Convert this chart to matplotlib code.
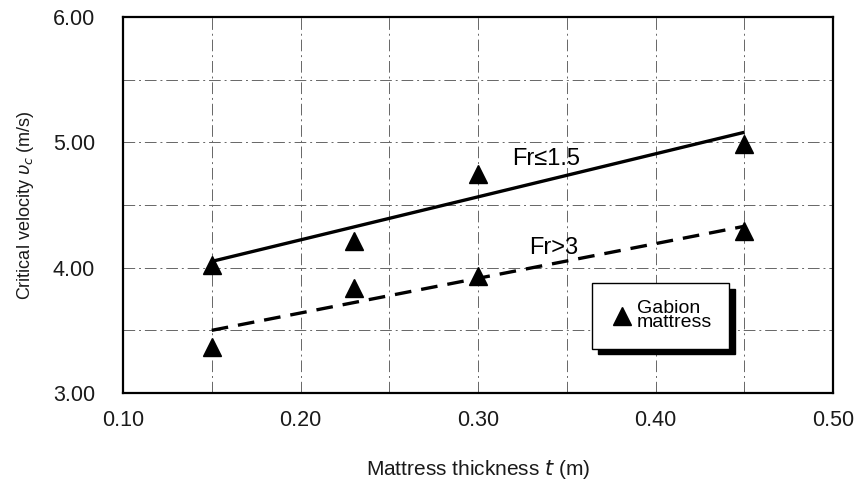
import matplotlib
matplotlib.use("Agg")
import matplotlib.pyplot as plt
from matplotlib.ticker import MultipleLocator

plt.rcParams['font.family'] = ['Liberation Sans', 'DejaVu Sans']

# data
thickness = [0.15, 0.23, 0.30, 0.45, 0.15, 0.23, 0.30, 0.45]
velocity = [4.02, 4.21, 4.75, 4.99, 3.37, 3.84, 3.93, 4.29]
fit_low_x = [0.15, 0.45]
fit_low_y = [4.05, 5.08]
fit_high_x = [0.15, 0.45]
fit_high_y = [3.50, 4.33]
xticks = [0.10, 0.20, 0.30, 0.40, 0.50]
yticks = [3.00, 4.00, 5.00, 6.00]

fig = plt.figure(figsize=(8.59, 4.84), dpi=100)
ax = fig.add_axes([123/859, 1-393/484, (833-123)/859, (393-17)/484])

ax.set_xlim(0.10, 0.50)
ax.set_ylim(3.0, 6.0)

ax.set_xticks(xticks)
ax.set_xticklabels([f"{v:.2f}" for v in xticks])
ax.set_yticks(yticks)
ax.set_yticklabels([f"{v:.2f}" for v in yticks])
ax.xaxis.set_minor_locator(MultipleLocator(0.05))
ax.yaxis.set_minor_locator(MultipleLocator(0.5))
ax.tick_params(which='both', length=0, labelsize=15.5, colors='#1a1a1a')
ax.tick_params(axis='x', pad=12)
ax.tick_params(axis='y', pad=20)

ax.grid(True, which='both', color='#666666', lw=0.7, linestyle=(0, (12, 4, 2, 4)))
ax.set_axisbelow(True)

for s in ax.spines.values():
    s.set_linewidth(1.6)
    s.set_color('black')

ax.plot(fit_low_x, fit_low_y, color='black', lw=2.4, solid_capstyle='butt')
ax.plot(fit_high_x, fit_high_y, color='black', lw=2.4, linestyle=(0, (5, 3)))
ax.plot(thickness, velocity, linestyle='none', marker='^', markersize=13,
        color='black', label='Gabion\nmattress')

ax.text(0.319, 4.87, "Fr≤1.5", fontsize=17, ha='left', va='center')
ax.text(0.329, 4.16, "Fr>3", fontsize=17, ha='left', va='center')

leg = ax.legend(loc='upper left', bbox_to_anchor=(0.6606, 0.2926), frameon=True,
                fancybox=False, edgecolor='black',
                shadow={'color': 'black', 'alpha': 1, 'ox': 4, 'oy': -4},
                fontsize=14, handletextpad=0.1, handlelength=1.3, borderpad=0.9,
                borderaxespad=0, labelspacing=0)
leg.get_frame().set_linewidth(1.0)
for t in leg.get_texts():
    t.set_linespacing(0.75)

ax.set_xlabel("Mattress thickness $t$ (m)", fontsize=15, labelpad=20, color='#1a1a1a')
ax.set_ylabel(r"Critical velocity $\upsilon_c$ (m/s)", fontsize=13, labelpad=12, color='#1a1a1a')

fig.savefig("out.png", dpi=100)
